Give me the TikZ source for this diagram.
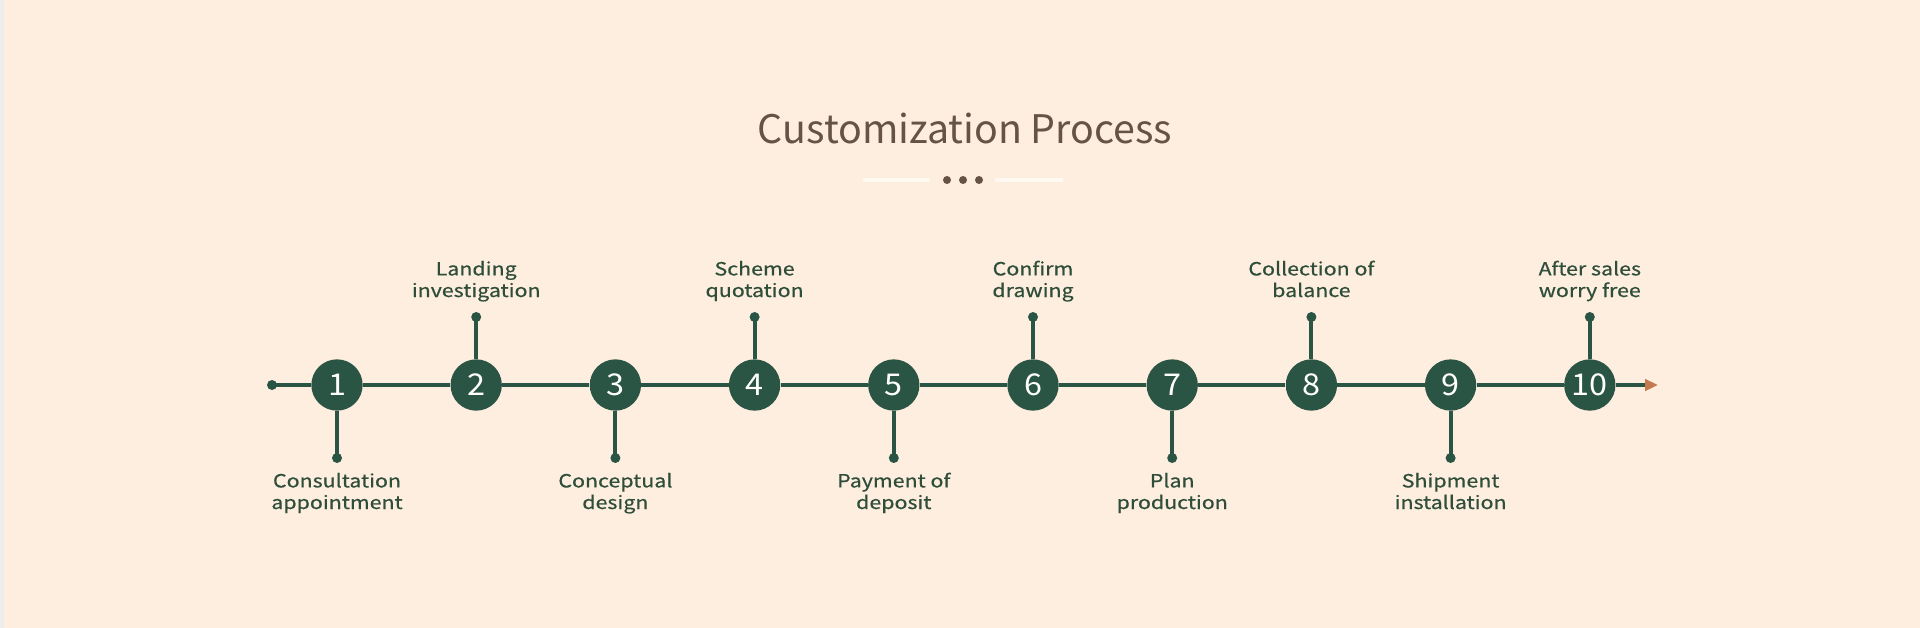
\documentclass[tikz,border=0pt]{standalone}
\usepackage{fontspec}
\setmainfont{Noto Sans CJK SC}
\newfontfamily\lblfont{Noto Sans CJK SC}[FakeStretch=1.18,FakeBold=0.6]
\newfontfamily\numfont{Noto Sans CJK SC}[FakeStretch=1.08]
\usetikzlibrary{arrows.meta}
\definecolor{bg}{HTML}{FEEEE0}
\definecolor{grn}{HTML}{2A5443}
\definecolor{txtg}{HTML}{2F4E3A}
\definecolor{brn}{HTML}{665246}
\definecolor{org}{HTML}{C47A4C}
\definecolor{edge}{HTML}{EDEDED}
\definecolor{bar}{HTML}{FFF9F2}
\begin{document}
\begin{tikzpicture}[x=0.75pt,y=-0.75pt,
  circ/.style={circle,fill=grn,minimum size=38.5pt,inner sep=0pt,text=white,font=\numfont\fontsize{22.5}{22.5}\selectfont},
  dotn/.style={circle,fill=grn,minimum size=7.5pt,inner sep=0pt},
  lbl/.style={inner sep=0pt,align=center,text=txtg,font=\lblfont\fontsize{13.6}{16.2}\selectfont},
  mainline/.style={draw=grn,line width=3pt},
  stem/.style={draw=grn,line width=3pt},
  barline/.style={draw=bar,line width=3.5pt},
  tdot/.style={circle,fill=brn,minimum size=6pt,inner sep=0pt}]
\fill[bg] (0,0) rectangle (1920,628);
\fill[edge] (0,0) rectangle (4,628);
\useasboundingbox (0,0) rectangle (1920,628);
% title
\node[anchor=base,text=brn,font=\fontsize{29.5}{30}\selectfont,inner sep=0pt] (title) at (965,143) {Customization Process};
\coordinate (b1s) at (863,180);
\coordinate (b1e) at (930,180);
\coordinate (b2s) at (995,180);
\coordinate (b2e) at (1063,180);
\draw[barline] (b1s) -- (b1e);
\draw[barline] (b2s) -- (b2e);
\node[tdot] (t1) at (947,180) {};
\node[tdot] (t2) at (963,180) {};
\node[tdot] (t3) at (979,180) {};
% timeline
\node[dotn] (s) at (272,385) {};
\foreach \i/\t in {1/{Consultation\\appointment},2/{Landing\\investigation},3/{Conceptual\\design},4/{Scheme\\quotation},5/{Payment of\\deposit},6/{Confirm\\drawing},7/{Plan\\production},8/{Collection of\\balance},9/{Shipment\\installation},10/{After sales\\worry free}}{
  \pgfmathsetmacro\xx{337+139.2*(\i-1)}
  \node[circ] (c\i) at (\xx,385) {\i};
  \ifodd\i
    \node[dotn] (d\i) at (\xx,458) {};
    \node[lbl,anchor=base] (l\i) at (\xx,509) {\t};
  \else
    \node[dotn] (d\i) at (\xx,317) {};
    \node[lbl,anchor=base] (l\i) at (\xx,297) {\t};
  \fi
  \draw[stem] (c\i) -- (d\i.center);
}
\coordinate (e) at (1658,385);
\draw[mainline] (s.center) -- (c1);
\foreach \i [evaluate=\i as \j using int(\i+1)] in {1,...,9}{
  \draw[mainline] (c\i) -- (c\j);
}
\draw[mainline,-{Triangle[length=9.75pt,width=8.5pt,color=org]}] (c10) -- (e);
\end{tikzpicture}
\end{document}
